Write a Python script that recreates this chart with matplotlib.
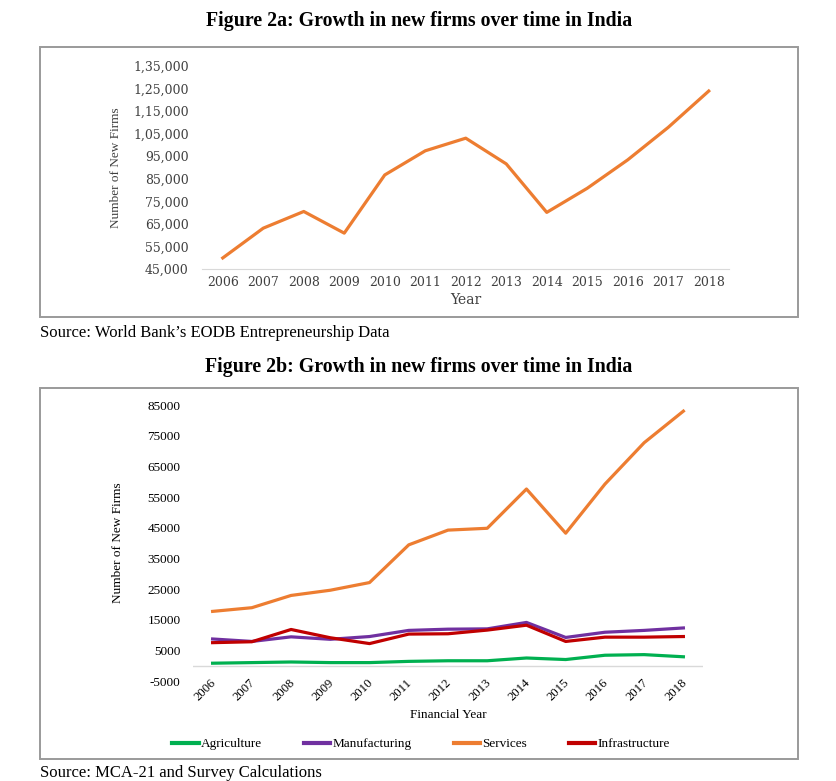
import matplotlib
matplotlib.use("Agg")
import matplotlib.pyplot as plt
from matplotlib.patches import Rectangle
from matplotlib.ticker import FuncFormatter
from matplotlib.transforms import ScaledTranslation

plt.rcParams["axes.unicode_minus"] = False

# donnees figure 2a
annees = ["2006", "2007", "2008", "2009", "2010", "2011", "2012",
          "2013", "2014", "2015", "2016", "2017", "2018"]
nouvelles_firmes = [49900, 63100, 70500, 60900, 86700, 97400, 103000,
                    91600, 70100, 80800, 93400, 107800, 123900]

# donnees figure 2b (par secteur)
agriculture = [800, 1000, 1200, 1000, 1000, 1400, 1600, 1600, 2500, 2000, 3400, 3600, 2900]
manufacturing = [8700, 7900, 9400, 8600, 9500, 11500, 11900, 12000, 14100, 9200, 10900, 11500, 12300]
services = [17700, 18900, 22900, 24600, 27100, 39400, 44200, 44800, 57600, 43200, 59200, 72700, 83000]
infrastructure = [7500, 7800, 11800, 9100, 7200, 10300, 10400, 11600, 13200, 7900, 9300, 9300, 9500]
secteurs = ["Agriculture", "Manufacturing", "Services", "Infrastructure"]
couleurs = ["#00B050", "#7030A0", "#ED7D31", "#C00000"]

W, H = 837, 781
fig = plt.figure(figsize=(W / 100, H / 100), dpi=100)

def fx(px):
    return px / W

def fy(py):
    return 1 - py / H

def indien(v, pos):
    # format de nombre indien : 1,35,000
    s = str(int(v))
    if len(s) <= 3:
        return s
    fin = s[-3:]
    debut = s[:-3]
    groupes = []
    while len(debut) > 2:
        groupes.insert(0, debut[-2:])
        debut = debut[:-2]
    if debut:
        groupes.insert(0, debut)
    return ",".join(groupes) + "," + fin

serif = "Liberation Serif"

# titres, sources et cadres
fig.text(fx(419), fy(21), "Figure 2a: Growth in new firms over time in India",
         ha="center", va="center", family=serif, weight="bold", fontsize=14.3)
fig.text(fx(419), fy(367), "Figure 2b: Growth in new firms over time in India",
         ha="center", va="center", family=serif, weight="bold", fontsize=14.3)
fig.text(fx(40), fy(333), "Source: World Bank\u2019s EODB Entrepreneurship Data",
         ha="left", va="center", family=serif, fontsize=12)
fig.text(fx(40), fy(773), "Source: MCA-21 and Survey Calculations",
         ha="left", va="center", family=serif, fontsize=12)

for haut, bas in [(47, 317), (388, 759)]:
    fig.patches.append(Rectangle((fx(40), fy(bas)), fx(798) - fx(40), fy(haut) - fy(bas),
                                 transform=fig.transFigure, fill=False,
                                 edgecolor="#9a9a9a", linewidth=1.4))

x = list(range(len(annees)))

# ---- figure 2a ----
g1, d1 = 202.5, 729
ax1 = fig.add_axes([fx(g1), fy(269), fx(d1) - fx(g1), fy(66) - fy(269)])
ax1.plot(x, nouvelles_firmes, color="#ED7D31", linewidth=2.3)
ax1.set_xlim(-0.5, 12.5)
ax1.set_ylim(45000, 135000)
ax1.set_yticks(range(45000, 135001, 10000))
ax1.yaxis.set_major_formatter(FuncFormatter(indien))
ax1.set_xticks(x)
ax1.set_xticklabels(annees)
for s in ["top", "right", "left"]:
    ax1.spines[s].set_visible(False)
ax1.spines["bottom"].set_color("#d9d9d9")
ax1.tick_params(axis="y", length=0, pad=10, labelsize=9, labelcolor="#404040")
ax1.tick_params(axis="x", length=0, pad=5, labelsize=9, labelcolor="#404040")
for lab in ax1.get_xticklabels() + ax1.get_yticklabels():
    lab.set_family("DejaVu Serif")
ax1.set_xlabel("Year", family="DejaVu Serif", fontsize=10, color="#404040", labelpad=3)
ax1.set_ylabel("Number of New Firms", family=serif, fontsize=9.5, color="#404040")
ax1.yaxis.set_label_coords((122 - g1) / (d1 - g1), 0.5)

# ---- figure 2b ----
g2, d2 = 193, 703
ax2 = fig.add_axes([fx(g2), fy(681), fx(d2) - fx(g2), fy(405) - fy(681)])
series = [agriculture, manufacturing, services, infrastructure]
for nom, val, c in zip(secteurs, series, couleurs):
    ax2.plot(x, val, color=c, linewidth=2.3, label=nom)
ax2.axhline(0, color="#d9d9d9", linewidth=1, zorder=0)
ax2.set_xlim(-0.5, 12.5)
ax2.set_ylim(-5000, 85000)
ax2.set_yticks(range(-5000, 85001, 10000))
ax2.set_xticks(x)
ax2.set_xticklabels(annees, rotation=45, ha="right")
for s in ["top", "right", "left", "bottom"]:
    ax2.spines[s].set_visible(False)
ax2.tick_params(axis="both", length=0, labelsize=9.5, labelcolor="#000000")
ax2.tick_params(axis="y", pad=9)
ax2.tick_params(axis="x", pad=-3, labelsize=9.2)
decalage = ScaledTranslation(6 / 100, 0, fig.dpi_scale_trans)
for lab in ax2.get_xticklabels():
    lab.set_transform(lab.get_transform() + decalage)
for lab in ax2.get_xticklabels() + ax2.get_yticklabels():
    lab.set_family(serif)
ax2.set_xlabel("Financial Year", family=serif, fontsize=9.5, labelpad=4)
ax2.set_ylabel("Number of New Firms", family=serif, fontsize=9.5)
ax2.yaxis.set_label_coords((124 - g2) / (d2 - g2), 0.5)

fig.legend(loc="center", bbox_to_anchor=(fx(421), fy(744)), ncol=4, frameon=False,
           prop={"family": serif, "size": 9.5}, handlelength=2.0, handletextpad=0.15,
           columnspacing=3.2)
for ligne in fig.legends[0].get_lines():
    ligne.set_linewidth(3)

fig.savefig("out.png", dpi=100)
